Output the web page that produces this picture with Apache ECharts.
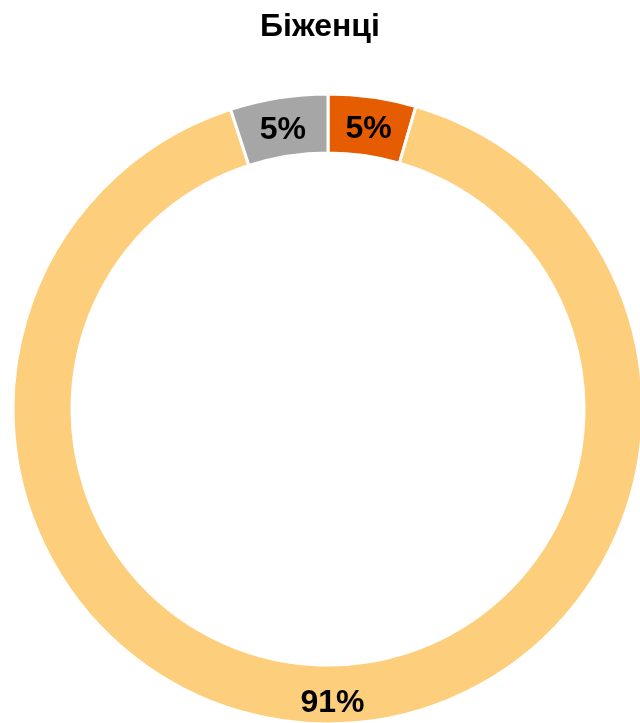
<!DOCTYPE html>
<html><head><meta charset="utf-8">
<script src="https://cdn.jsdelivr.net/npm/echarts@6/dist/echarts.min.js"></script>
<style>html,body{margin:0;padding:0;background:#fff}#c{width:640px;height:723px}</style>
</head><body><div id="c"></div>
<script>
const title = 'Біженці';
const categories = ['A', 'B', 'C'];
const values = [4.5, 90.5, 5.0];
const colors = ['#E65C00', '#FDCF7C', '#A6A6A6'];

const chart = echarts.init(document.getElementById('c'));
chart.setOption({
  animation: false,
  title: {
    text: title, left: 'center', top: 6,
    textStyle: { fontFamily: 'Liberation Sans, Arial', fontSize: 32, fontWeight: 'bold', color: '#000' }
  },
  series: [{
    type: 'pie',
    center: [328, 409],
    radius: [256, 315],
    startAngle: 90,
    clockwise: true,
    avoidLabelOverlap: false,
    itemStyle: { borderColor: '#fff', borderWidth: 3 },
    label: {
      show: true, position: 'inside',
      formatter: p => Math.round(p.value) + '%',
      offset: [0, 6],
      fontFamily: 'Liberation Sans, Arial', fontSize: 32, fontWeight: 'bold', color: '#000'
    },
    labelLine: { show: false },
    emphasis: { disabled: true },
    data: categories.map((c, i) => ({ name: c, value: values[i], itemStyle: { color: colors[i] } }))
  }]
});
</script></body></html>
